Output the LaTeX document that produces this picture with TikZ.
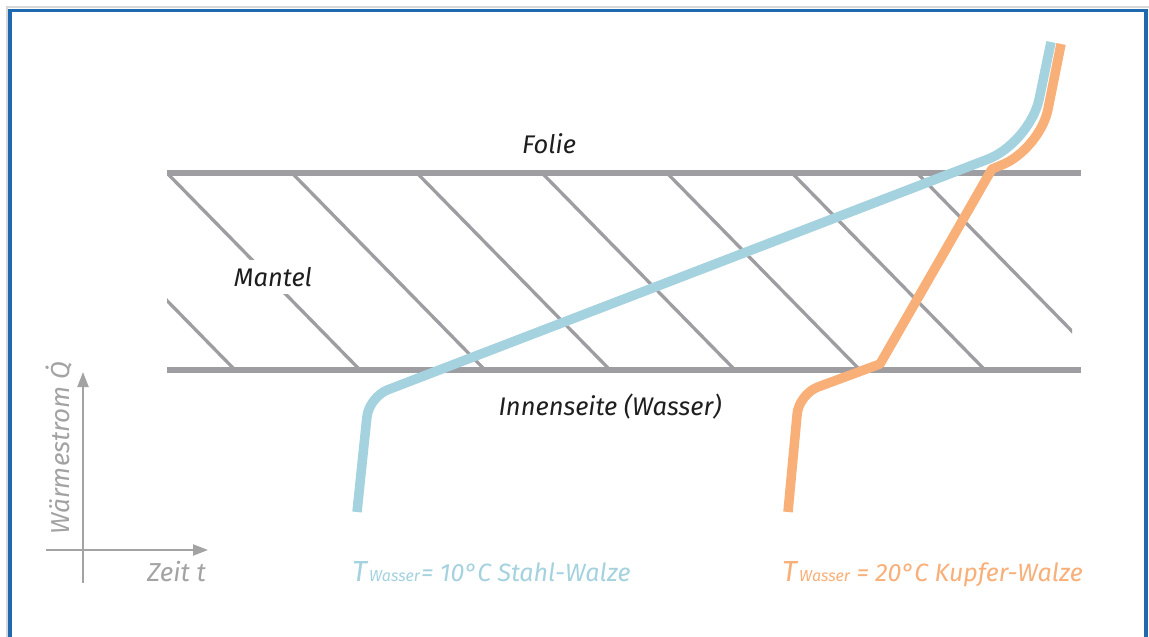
\documentclass[tikz,border=0pt]{standalone}
\usepackage{fontspec}
\setmainfont{Fira Sans}
\usetikzlibrary{arrows.meta}
\definecolor{frameblue}{HTML}{1F6AAE}
\definecolor{shadowgray}{HTML}{D8D8D8}
\definecolor{bandgray}{HTML}{9D9DA2}
\definecolor{axisgray}{HTML}{A3A3A3}
\definecolor{curveblue}{HTML}{A5D2DF}
\definecolor{curveorange}{HTML}{F8AF78}
\definecolor{textdark}{HTML}{1E1E1E}
\tikzset{
  lbl/.style={font=\fontsize{25.5}{25.5}\selectfont\itshape, text=textdark, inner sep=2pt},
  bandline/.style={draw=bandgray, line width=6.5pt},
  hatchline/.style={draw=bandgray, line width=3.3pt},
  axisline/.style={draw=axisgray, line width=2.2pt, -{Triangle[length=15pt,width=11pt]}},
  axislbl/.style={font=\fontsize{26}{26}\selectfont\itshape, text=axisgray, inner sep=0pt},
  curve/.style={line width=9.5pt, line join=round},
  legend/.style={font=\fontsize{25}{25}\selectfont\itshape, inner sep=0pt}
}
\begin{document}
\begin{tikzpicture}[x=1pt,y=-1pt]
\useasboundingbox (0,0) rectangle (1149,637);
\clip (0,0) rectangle (1149,637);
\fill[white] (0,0) rectangle (1149,637);
% frame
\draw[shadowgray, line width=1.5pt] (7,660) -- (7,7) -- (1149,7);
\draw[frameblue, line width=3.3pt] (10,660) -- (10,10.5) -- (1146,10.5) -- (1146,660);
% hatching
\begin{scope}
  \clip (167,173) rectangle (1072,370);
  \foreach \t in {42,167,292,417,542,667,792,917}
    \draw[hatchline] (\t,173) -- ++(193,197);
\end{scope}
% band lines
\coordinate (tl) at (167,173);
\coordinate (tr) at (1081,173);
\coordinate (bl) at (167,370);
\coordinate (br) at (1081,370);
\draw[bandline] (tl) -- (tr);
\draw[bandline] (bl) -- (br);
% labels
\node[lbl] (folie) at (549,144) {Folie};
\node[lbl, fill=white, inner sep=7pt] (mantel) at (273,277) {Mantel};
\node[lbl] (innen) at (610,407) {Innenseite (Wasser)};
% curves
\draw[curve, curveblue] (357,512) [rounded corners=20pt] -- (369,397) [rounded corners=45pt] -- (1030,143) [sharp corners] -- (1051,42);
\draw[curve, curveorange] (788,512) [rounded corners=20pt] -- (799,394) [sharp corners] -- (880,364) -- (992,169) [rounded corners=40pt] -- (1040,149) [sharp corners] -- (1061,44);
% axes
\coordinate (ybot) at (83,583);
\coordinate (ytop) at (83,372);
\coordinate (xleft) at (46,550);
\coordinate (xright) at (208,550);
\draw[axisline] (ybot) -- (ytop);
\draw[axisline] (xleft) -- (xright);
\node[axislbl, rotate=90, anchor=base west] (ylbl) at (69,535) {Wärmestrom \.{Q}};
\node[axislbl, anchor=base east] (xlbl) at (206,581) {Zeit t};
% legends
\node[legend, text=curveblue, anchor=base west] (legblue) at (352,581)
  {{\fontsize{29}{29}\selectfont T}\kern2pt{\fontsize{16}{16}\selectfont Wasser}\kern1pt= 10°C Stahl-Walze};
\node[legend, text=curveorange, anchor=base west] (legorange) at (782,581)
  {{\fontsize{29}{29}\selectfont T}\kern2pt{\fontsize{16}{16}\selectfont Wasser} = 20°C Kupfer-Walze};
\end{tikzpicture}
\end{document}
